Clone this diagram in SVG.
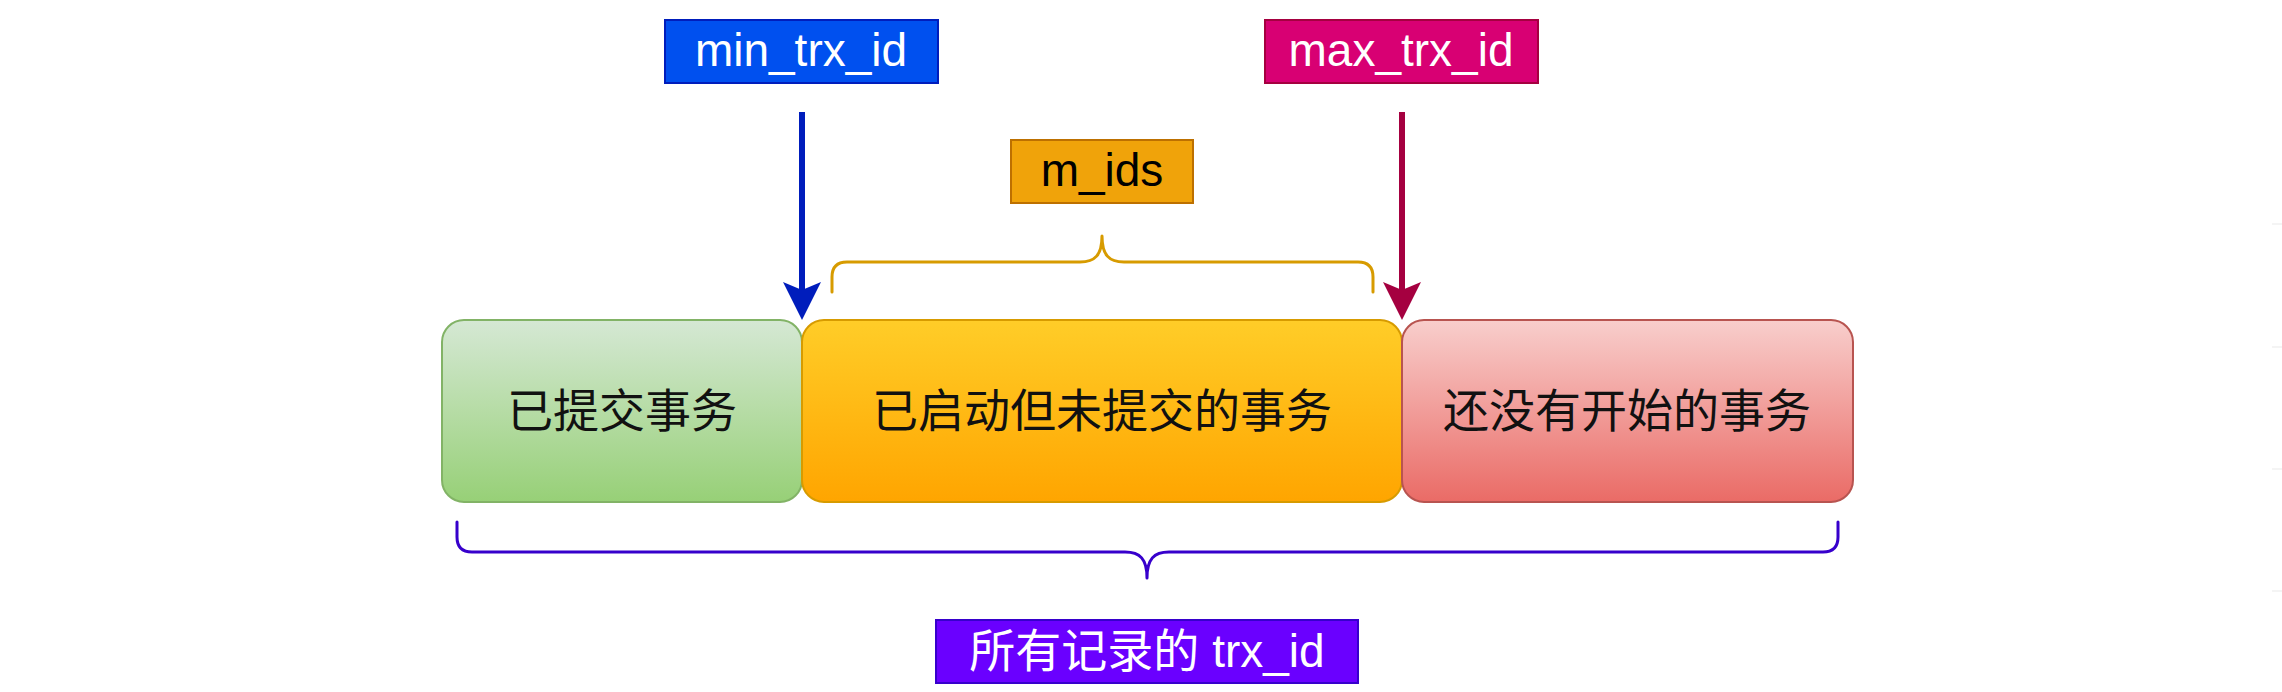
<svg xmlns="http://www.w3.org/2000/svg" width="2282" height="692" viewBox="0 0 2282 692">
<style>
.lbl{font-family:"Liberation Sans","Noto Sans CJK SC",Arial,sans-serif;font-size:46px;text-anchor:middle}
.cjk{font-family:"Liberation Sans","Noto Sans CJK SC",sans-serif;font-size:46px;text-anchor:middle;fill:#111}
.w{fill:#ffffff}
.brace{fill:none;stroke-width:3;stroke-linecap:round;stroke-linejoin:round}
.box{stroke-width:2}
</style>
<defs>
<linearGradient id="gGreen" x1="0" y1="0" x2="0" y2="1"><stop offset="0" stop-color="#d5e8d4"/><stop offset="1" stop-color="#97d077"/></linearGradient>
<linearGradient id="gOrange" x1="0" y1="0" x2="0" y2="1"><stop offset="0" stop-color="#ffcd28"/><stop offset="1" stop-color="#ffa500"/></linearGradient>
<linearGradient id="gRed" x1="0" y1="0" x2="0" y2="1"><stop offset="0" stop-color="#f8cecc"/><stop offset="1" stop-color="#ea6b66"/></linearGradient>
</defs>
<rect width="2282" height="692" fill="#ffffff"/>

<g id="edge-ticks" stroke="#f0f0f0" stroke-width="1.5">
<line x1="2272" y1="224" x2="2282" y2="224"/>
<line x1="2272" y1="347" x2="2282" y2="347"/>
<line x1="2272" y1="469" x2="2282" y2="469"/>
<line x1="2272" y1="591" x2="2282" y2="591"/>
</g>

<g id="node-committed">
<rect class="box" x="442" y="320" width="360" height="182" rx="22" fill="url(#gGreen)" stroke="#82b366"/>
<text class="cjk" x="622" y="427">已提交事务</text>
</g>
<g id="node-active">
<rect class="box" x="802" y="320" width="600" height="182" rx="22" fill="url(#gOrange)" stroke="#d79b00"/>
<text class="cjk" x="1102" y="427">已启动但未提交的事务</text>
</g>
<g id="node-future">
<rect class="box" x="1402" y="320" width="451" height="182" rx="22" fill="url(#gRed)" stroke="#b85450"/>
<text class="cjk" x="1627" y="427">还没有开始的事务</text>
</g>

<g id="node-min">
<rect x="665" y="20" width="273" height="63" fill="#0050ef" stroke="#001dbc" stroke-width="2"/>
<text class="lbl w" x="801" y="66">min_trx_id</text>
</g>
<g id="node-max">
<rect x="1265" y="20" width="273" height="63" fill="#d80073" stroke="#a50040" stroke-width="2"/>
<text class="lbl w" x="1401" y="66">max_trx_id</text>
</g>
<g id="node-mids">
<rect x="1011" y="140" width="182" height="63" fill="#f0a30a" stroke="#bd7000" stroke-width="2"/>
<text class="lbl" x="1102" y="186" fill="#000">m_ids</text>
</g>
<g id="node-all">
<rect x="936" y="620" width="422" height="63" fill="#6a00ff" stroke="#3700cc" stroke-width="2"/>
<text class="cjk w" x="1147" y="667" style="fill:#fff">所有记录的 trx_id</text>
</g>

<g id="connectors">
<line x1="802" y1="112" x2="802" y2="292" stroke="#001dbc" stroke-width="6"/>
<polygon points="802,320 783,282 802,290 821,282" fill="#001dbc"/>
<line x1="1402" y1="112" x2="1402" y2="292" stroke="#a50040" stroke-width="6"/>
<polygon points="1402,320 1383,282 1402,290 1421,282" fill="#a50040"/>
<path class="brace" stroke="#d79b00" d="M832,292 V277 Q832,262 847,262 H1080 C1095,262 1102,255 1102,236 C1102,255 1109,262 1124,262 H1358 Q1373,262 1373,277 V292"/>
<path class="brace" stroke="#3700cc" d="M457,522 V537 Q457,552 472,552 H1125 C1140,552 1147,559 1147,578 C1147,559 1154,552 1169,552 H1823 Q1838,552 1838,537 V522"/>
</g>
</svg>
